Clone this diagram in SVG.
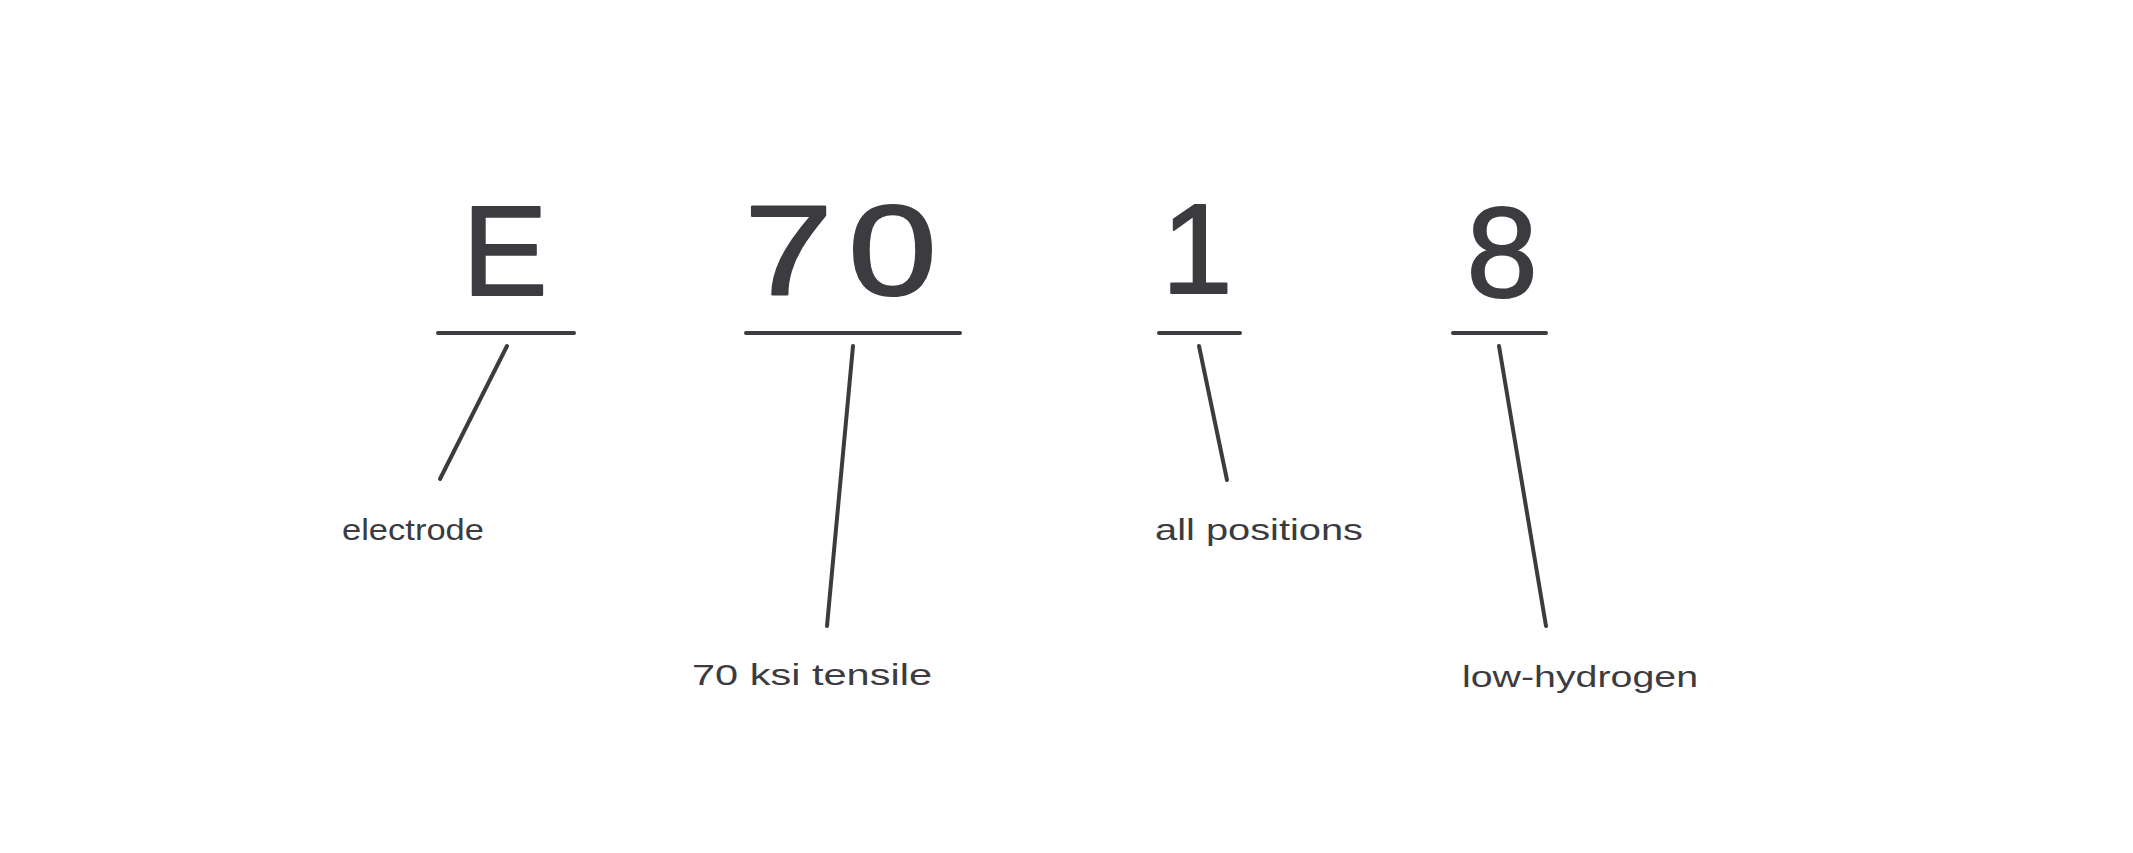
<svg xmlns="http://www.w3.org/2000/svg" width="2133" height="853" viewBox="0 0 2133 853">
<style>
.big{font-family:"Liberation Sans","DejaVu Sans",sans-serif;font-size:128px;fill:#3c3b3f;stroke:#3c3b3f;stroke-width:2;stroke-linejoin:round}
.lbl{font-family:"Liberation Sans","DejaVu Sans",sans-serif;font-size:30px;fill:#3c3b3f}
.ln{stroke:#3c3b3f;stroke-width:4;stroke-linecap:round;fill:none}
</style>
<rect width="2133" height="853" fill="#ffffff"/>
<g id="node-E">
<text class="big" x="505" y="295" text-anchor="middle">E</text>
<line class="ln" x1="438" y1="333" x2="574" y2="333"/>
<text class="lbl" x="342" y="540" textLength="142" lengthAdjust="spacingAndGlyphs">electrode</text>
</g>
<g id="node-70">
<text class="big" transform="translate(848,295) scale(1.25,1)" x="0" y="0" text-anchor="middle" letter-spacing="12">70</text>
<line class="ln" x1="746" y1="333" x2="960" y2="333"/>
<text class="lbl" x="692" y="685" textLength="240" lengthAdjust="spacingAndGlyphs">70 ksi tensile</text>
</g>
<g id="node-1">
<text class="big" x="1197" y="293" text-anchor="middle">1</text>
<line class="ln" x1="1159" y1="333" x2="1240" y2="333"/>
<text class="lbl" x="1155" y="540" textLength="208" lengthAdjust="spacingAndGlyphs">all positions</text>
</g>
<g id="node-8">
<text class="big" x="1502" y="297" text-anchor="middle">8</text>
<line class="ln" x1="1453" y1="333" x2="1546" y2="333"/>
<text class="lbl" x="1462" y="687" textLength="236" lengthAdjust="spacingAndGlyphs">low-hydrogen</text>
</g>
<g id="connectors">
<line class="ln" x1="507" y1="346" x2="440" y2="479"/>
<line class="ln" x1="853" y1="346" x2="827" y2="626"/>
<line class="ln" x1="1199" y1="346" x2="1227" y2="480"/>
<line class="ln" x1="1499" y1="346" x2="1546" y2="626"/>
</g>
</svg>
